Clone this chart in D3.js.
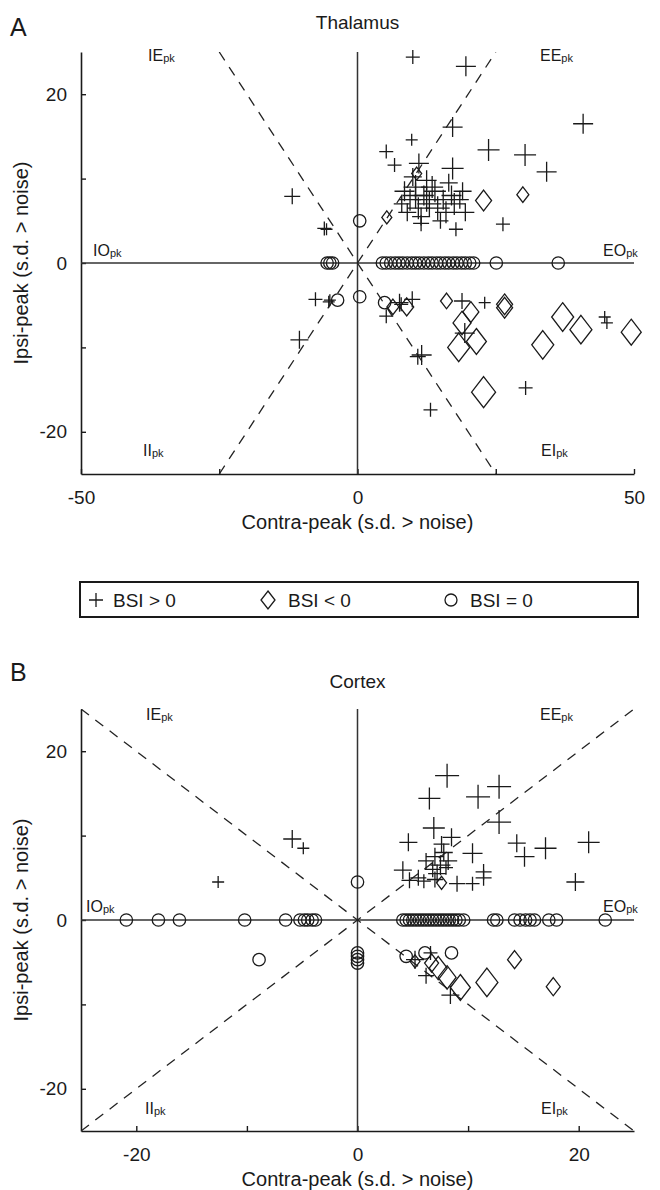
<!DOCTYPE html>
<html>
<head>
<meta charset="utf-8">
<script src="https://cdn.jsdelivr.net/npm/d3@7"></script>
<style>
  html, body { margin: 0; padding: 0; background: #fff; }
  svg { display: block; }
  text { font-family: "Liberation Sans", Arial, Helvetica, sans-serif; fill: #1a1a1a; }
</style>
</head>
<body>
<svg id="chart" width="660" height="1190"></svg>
<script>
// ---------------- DATA ----------------
// Panel A (Thalamus): [contra, ipsi, magnitude]
const thalPlus = [
  [10.0, 24.4, 3], [19.6, 23.3, 6], [40.8, 16.5, 6], [17.2, 16.1, 6], [9.8, 14.6, 2],
  [23.7, 13.4, 7], [30.3, 12.8, 7], [34.2, 10.8, 6], [5.2, 13.2, 3], [6.7, 11.6, 3],
  [11.1, 11.8, 6], [17.2, 11.2, 7], [-11.8, 7.9, 4], [-6.0, 4.1, 3], [-5.6, 4.0, 2],
  [26.3, 4.6, 3], [17.8, 4.0, 3],
  [8.5, 8.5, 6], [9.5, 7.5, 7], [10.5, 9.0, 8], [11.0, 6.5, 7], [12.0, 8.0, 6],
  [12.5, 9.8, 6], [13.0, 7.0, 8], [10.0, 10.2, 5], [9.0, 6.0, 5], [11.5, 5.5, 5],
  [14.0, 8.5, 7], [14.5, 6.5, 8], [15.5, 7.5, 6], [16.0, 6.0, 7], [17.0, 8.0, 6],
  [17.5, 7.0, 7], [18.5, 7.5, 5], [19.5, 6.0, 5], [11.5, 4.7, 4], [12.5, 7.5, 8],
  [10.5, 8.0, 9], [13.5, 9.0, 7], [8.0, 7.0, 4], [15.0, 5.0, 4], [16.5, 9.5, 5], [19.0, 8.5, 5],
  [-7.6, -4.3, 3], [-5.2, -4.6, 2], [-5.0, -4.4, 2], [-10.5, -9.1, 5], [7.6, -4.7, 5],
  [7.9, -4.9, 3], [9.9, -4.3, 4], [5.2, -6.3, 3], [18.9, -4.5, 4], [23.0, -4.7, 2],
  [19.4, -8.3, 6], [11.6, -10.9, 6], [10.9, -11.1, 4], [44.7, -6.4, 2], [45.1, -7.1, 2],
  [30.4, -14.8, 3], [13.2, -17.4, 3]
];
const thalDiamond = [
  [10.7, 10.6, 1], [22.8, 7.4, 4], [29.9, 8.1, 2], [5.3, 5.4, 1],
  [8.9, -5.2, 3], [6.4, -5.2, 2], [16.1, -4.5, 2], [20.5, -5.8, 4], [26.6, -4.9, 4],
  [26.6, -5.3, 4], [18.9, -7.1, 5], [18.3, -10.0, 7], [21.5, -9.3, 6], [37.1, -6.4, 7],
  [40.4, -7.9, 7], [33.5, -9.7, 7], [49.5, -8.2, 6], [22.8, -15.3, 8]
];
const thalCircle = [
  [0.4, 5.0], [0.4, -4.0], [-3.6, -4.4], [4.9, -4.7],
  [-5.5, 0], [-5.0, 0], [-4.5, 0],
  [4.5, 0], [5.2, 0], [6.0, 0], [6.8, 0], [7.5, 0], [8.2, 0], [9.0, 0], [9.8, 0],
  [10.5, 0], [11.2, 0], [12.0, 0], [12.8, 0], [13.5, 0], [14.3, 0], [15.0, 0], [15.8, 0],
  [16.5, 0], [17.3, 0], [18.0, 0], [18.8, 0], [19.5, 0], [20.3, 0], [21.0, 0],
  [25.1, 0], [36.3, 0]
];

// Panel B (Cortex): [contra, ipsi, magnitude]
const ctxPlus = [
  [8.1, 17.1, 8], [6.5, 14.4, 7], [10.9, 14.6, 8], [12.8, 15.8, 8], [12.8, 11.6, 8],
  [6.9, 10.9, 7], [8.5, 9.8, 5], [4.6, 9.2, 5], [10.4, 7.9, 6], [14.4, 9.1, 5],
  [15.1, 7.5, 6], [17.0, 8.5, 7], [20.9, 9.2, 7], [19.7, 4.5, 5], [-5.9, 9.6, 5],
  [-4.9, 8.5, 2], [-12.6, 4.5, 2], [4.1, 5.9, 5], [4.7, 4.7, 4], [11.4, 5.7, 4],
  [9.0, 4.3, 4], [10.4, 4.3, 3], [11.4, 5.0, 4],
  [7.0, 7.5, 5], [7.5, 6.5, 6], [7.8, 8.0, 5], [6.8, 6.0, 4], [8.2, 7.0, 5],
  [7.2, 5.5, 5], [6.2, 7.0, 4], [7.6, 9.0, 4], [8.0, 6.2, 3], [5.5, 5.0, 4],
  [6.0, 4.6, 3], [7.0, 4.8, 4],
  [5.2, -4.7, 5], [6.6, -3.9, 3], [6.2, -6.6, 4], [8.4, -8.9, 5]
];
const ctxDiamond = [
  [5.2, -4.9, 1], [6.7, -5.1, 3], [7.3, -5.7, 5], [8.1, -6.8, 5], [9.3, -8.0, 6],
  [11.7, -7.4, 7], [14.2, -4.7, 3], [17.7, -7.9, 3], [7.6, 4.4, 1]
];
const ctxCircle = [
  [0, 4.5], [0, -3.9], [0, -4.3], [0, -4.7], [0, -5.1], [-8.9, -4.7],
  [4.4, -4.3], [6.1, -3.9], [8.5, -3.9],
  [-20.9, 0], [-18.0, 0], [-16.1, 0], [-10.2, 0], [-6.5, 0], [-5.2, 0], [-4.8, 0],
  [-4.5, 0], [-4.1, 0], [-3.8, 0],
  [4.1, 0], [4.4, 0], [4.7, 0], [5.0, 0], [5.3, 0], [5.6, 0], [5.9, 0], [6.2, 0],
  [6.5, 0], [6.8, 0], [7.1, 0], [7.4, 0], [7.7, 0], [8.0, 0], [8.3, 0], [8.6, 0],
  [8.9, 0], [9.2, 0], [9.6, 0],
  [12.3, 0], [12.6, 0], [14.2, 0], [14.7, 0], [15.2, 0], [15.6, 0], [16.0, 0],
  [17.3, 0], [18.0, 0], [22.4, 0]
];

const thalXTicks = [-50, -25, 0, 25, 50];
const thalXLabels = [-50, 0, 50];
const ctxXTicks = [-20, -10, 0, 10, 20];
const ctxXLabels = [-20, 0, 20];
const yTicks = [-20, -10, 0, 10, 20];
const yLabels = [-20, 0, 20];
const quadrantNames = ["IE", "EE", "IO", "EO", "II", "EI"];
const legendLabels = ["BSI > 0", "BSI < 0", "BSI = 0"];
const xTitle = "Contra-peak (s.d. > noise)";
const yTitle = "Ipsi-peak (s.d. > noise)";

// ---------------- DRAWING ----------------
const svg = d3.select("#chart");
const INK = "#1a1a1a";
const sizeScale = d3.scaleLinear().domain([0, 10]).range([8, 28]);

function fmt(v) { return v < 0 ? "-" + Math.abs(v) : String(v); }

function drawPanel(o) {
  const g = svg.append("g");
  const x = d3.scaleLinear().domain(o.xDomain).range([81, 634]);
  const y = d3.scaleLinear().domain([-25, 25]).range([o.bottom, o.top]);

  // clip for dashed diagonals
  const clipId = "clip" + o.letter;
  svg.append("clipPath").attr("id", clipId).append("rect")
    .attr("x", x.range()[0]).attr("y", o.top)
    .attr("width", x.range()[1] - x.range()[0]).attr("height", o.bottom - o.top);

  // panel letter & title
  g.append("text").attr("x", 10).attr("y", o.letterY).attr("font-size", 25).text(o.letter);
  g.append("text").attr("x", x(0)).attr("y", o.titleY).attr("text-anchor", "middle")
    .attr("font-size", 19).text(o.title);

  // axes
  const xAxis = d3.axisBottom(x).tickValues(o.xTicks).tickSizeInner(-5).tickSizeOuter(0)
    .tickPadding(17).tickFormat(d => o.xLabels.includes(d) ? fmt(d) : "");
  const gx = g.append("g").attr("transform", `translate(0,${o.bottom})`).call(xAxis);
  const yAxis = d3.axisLeft(y).tickValues(yTicks).tickSizeInner(-5).tickSizeOuter(0)
    .tickPadding(14).tickFormat(d => yLabels.includes(d) ? fmt(d) : "");
  const gy = g.append("g").attr("transform", `translate(81,0)`).call(yAxis);
  [gx, gy].forEach(a => {
    a.select(".domain").attr("stroke", INK).attr("stroke-width", 1.6);
    a.selectAll(".tick line").attr("stroke", INK).attr("stroke-width", 1.4);
    a.selectAll(".tick text").attr("font-size", 19).attr("fill", INK)
      .attr("font-family", '"Liberation Sans", Arial, sans-serif');
  });

  // zero lines
  g.append("line").attr("x1", x(0)).attr("x2", x(0)).attr("y1", o.top).attr("y2", o.bottom)
    .attr("stroke", "#333").attr("stroke-width", 1.5);
  g.append("line").attr("x1", x.range()[0]).attr("x2", x.range()[1]).attr("y1", y(0)).attr("y2", y(0))
    .attr("stroke", "#333").attr("stroke-width", 1.5);

  // dashed diagonals y = x and y = -x
  const dg = g.append("g").attr("clip-path", `url(#${clipId})`);
  [[[-25, -25], [25, 25]], [[-25, 25], [25, -25]]].forEach(seg => {
    dg.append("line")
      .attr("x1", x(seg[0][0])).attr("y1", y(seg[0][1]))
      .attr("x2", x(seg[1][0])).attr("y2", y(seg[1][1]))
      .attr("stroke", "#222").attr("stroke-width", 1.3).attr("stroke-dasharray", "10,8");
  });

  // axis titles
  g.append("text").attr("x", x(0)).attr("y", o.bottom + 55).attr("text-anchor", "middle")
    .attr("font-size", 20).text(xTitle);
  g.append("text").attr("transform", `translate(28,${y(0)}) rotate(-90)`).attr("text-anchor", "middle")
    .attr("font-size", 20).text(yTitle);

  // quadrant labels
  o.qpos.forEach((p, i) => {
    const t = g.append("text").attr("x", p[0]).attr("y", p[1]).attr("font-size", 16);
    t.append("tspan").text(quadrantNames[i]);
    t.append("tspan").attr("font-size", 11).attr("dy", 1).text("pk");
  });

  // markers
  const mk = g.append("g").attr("fill", "none").attr("stroke", INK).attr("stroke-width", 1.3);
  mk.selectAll("path.plus").data(o.plus).join("path").attr("class", "plus")
    .attr("d", d => { const s = sizeScale(d[2]) / 2; return `M${-s},0H${s}M0,${-s}V${s}`; })
    .attr("transform", d => `translate(${x(d[0])},${y(d[1])})`);
  mk.selectAll("path.dia").data(o.diamond).join("path").attr("class", "dia")
    .attr("d", d => { const w = sizeScale(d[2]) / 2, h = w * 1.3; return `M0,${-h}L${w},0L0,${h}L${-w},0Z`; })
    .attr("transform", d => `translate(${x(d[0])},${y(d[1])})`);
  mk.selectAll("circle").data(o.circle).join("circle")
    .attr("cx", d => x(d[0])).attr("cy", d => y(d[1])).attr("r", 6.2);
}

drawPanel({
  letter: "A", letterY: 36, title: "Thalamus", titleY: 29,
  xDomain: [-50, 50], xTicks: thalXTicks, xLabels: thalXLabels,
  top: 52, bottom: 474,
  qpos: [[148, 61], [540, 61], [93, 256], [603, 256], [143, 456], [541, 456]],
  plus: thalPlus, diamond: thalDiamond, circle: thalCircle
});

drawPanel({
  letter: "B", letterY: 681, title: "Cortex", titleY: 688,
  xDomain: [-25, 25], xTicks: ctxXTicks, xLabels: ctxXLabels,
  top: 709, bottom: 1131,
  qpos: [[146, 720], [540, 720], [86, 912], [603, 912], [145, 1114], [541, 1114]],
  plus: ctxPlus, diamond: ctxDiamond, circle: ctxCircle
});

// legend
const lg = svg.append("g");
lg.append("rect").attr("x", 80).attr("y", 582).attr("width", 558).attr("height", 35)
  .attr("fill", "none").attr("stroke", INK).attr("stroke-width", 2);
const legItems = [
  { x: 96, tx: 113, kind: "plus" },
  { x: 268, tx: 288, kind: "dia" },
  { x: 451, tx: 470, kind: "circle" }
];
const ly = 600;
legItems.forEach((it, i) => {
  const m = lg.append("g").attr("transform", `translate(${it.x},${ly})`)
    .attr("fill", "none").attr("stroke", INK).attr("stroke-width", 1.3);
  if (it.kind === "plus") m.append("path").attr("d", "M-7,0H7M0,-7V7");
  else if (it.kind === "dia") m.append("path").attr("d", "M0,-9L7,0L0,9L-7,0Z");
  else m.append("circle").attr("r", 6);
  lg.append("text").attr("x", it.tx).attr("y", ly + 7).attr("font-size", 19).text(legendLabels[i]);
});
</script>
</body>
</html>
